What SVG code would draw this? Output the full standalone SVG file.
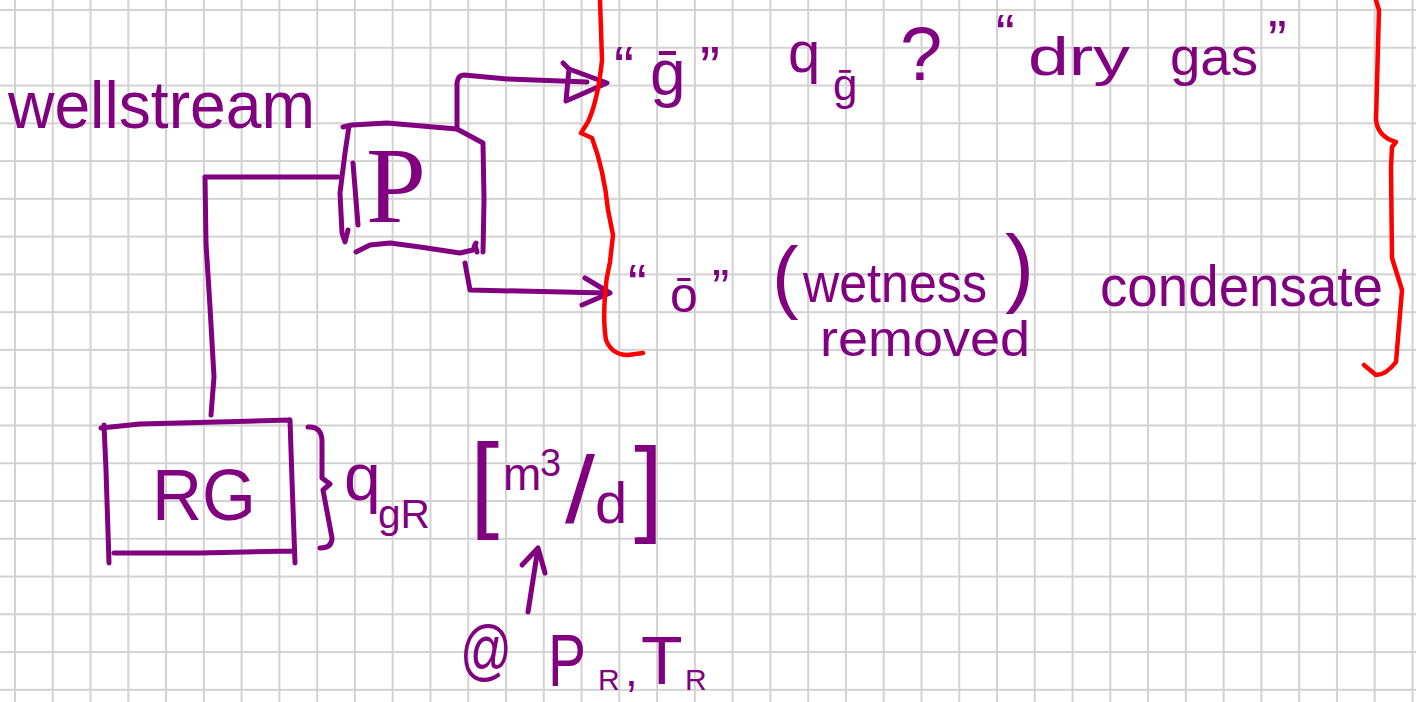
<svg xmlns="http://www.w3.org/2000/svg" width="1416" height="702" viewBox="0 0 1416 702">
<style>
.pen{fill:none;stroke:#800080;stroke-width:5;stroke-linecap:round;stroke-linejoin:round}
.red{fill:none;stroke:#ff0000;stroke-width:4.5;stroke-linecap:round;stroke-linejoin:round}
.t{font-family:"Liberation Sans",Arial,sans-serif;fill:#800080}
.s{font-family:"Liberation Serif","Times New Roman",serif;fill:#800080}
</style>
<defs>
<pattern id="grid" x="14" y="9" width="37.77" height="37.77" patternUnits="userSpaceOnUse">
<rect x="0" y="0" width="2" height="37.77" fill="#d2d2d2"/>
<rect x="0" y="0" width="37.77" height="2" fill="#d2d2d2"/>
</pattern>
</defs>
<rect width="1416" height="702" fill="#ffffff"/>
<rect width="1416" height="702" fill="url(#grid)"/>

<g id="connectors">
<path id="c-feed" class="pen" d="M338,177 L205,177 L206,243 L210,307 L214,377 L211,415"/>
<path id="c-gas" class="pen" d="M457,129 L457,83 Q458,75 464,75 L507,79 L587,82"/>
<path id="c-gas-head" class="pen" d="M563,63 L569,69 L607,83 L566,101 L569,69"/>
<path id="c-oil" class="pen" d="M465,263 L470,290 L607,293"/>
<path id="c-oil-head" class="pen" d="M585,278 L610,293 L582,305"/>
<path id="c-cond" class="pen" d="M528,612 L538,548 M522,565 L538,548 L545,573"/>
</g>

<g id="separator">
<path class="pen" d="M343,127 L352,125 L387,123 L457,129 L483,143 L484,200 L483,252 M475,245 L477,252"/>
<path class="pen" d="M349,126 L345,153 L340,193 L342,233 L345,242 L348,230"/>
<path class="pen" d="M353,163 L358,225"/>
<path class="pen" d="M356,252 L370,245 L390,243 L420,247 L460,253 L473,250 L476,243"/>
<text class="s" x="366" y="222" font-size="108">P</text>
</g>

<g id="rg">
<path class="pen" d="M101,428 L140,424 L289,420 M104,425 L106,470 L109,563 M290,420 L292,480 L295,563 M114,553 L200,553 L293,551"/>
<text class="t" x="152" y="520" font-size="72" textLength="104" lengthAdjust="spacingAndGlyphs">RG</text>
</g>

<g id="label-wellstream">
<text class="t" x="8" y="128" font-size="66" textLength="307" lengthAdjust="spacingAndGlyphs">wellstream</text>
</g>

<g id="label-gas">
<text class="t" x="614" y="88" font-size="60">“</text>
<text class="t" x="650" y="95" font-size="64">ḡ</text>
<text class="t" x="700" y="88" font-size="60">”</text>
<text class="t" x="788" y="72" font-size="58">q</text>
<text class="t" x="833" y="100" font-size="44">ḡ</text>
<text class="t" x="900" y="80" font-size="76">?</text>
<text class="t" x="996" y="53" font-size="56">“</text>
<text class="t" x="1028" y="75" font-size="54" textLength="102" lengthAdjust="spacingAndGlyphs">dry</text>
<text class="t" x="1170" y="75" font-size="54" textLength="88" lengthAdjust="spacingAndGlyphs">gas</text>
<text class="t" x="1268" y="59" font-size="56">”</text>
</g>

<g id="label-oil">
<text class="t" x="628" y="303" font-size="56">“</text>
<text class="t" x="670" y="312" font-size="50">ō</text>
<text class="t" x="712" y="306" font-size="52">”</text>
<text class="t" x="772" y="303" font-size="80">(</text>
<text class="t" x="803" y="302" font-size="56" textLength="184" lengthAdjust="spacingAndGlyphs">wetness</text>
<text class="t" x="1005" y="296" font-size="88">)</text>
<text class="t" x="820" y="356" font-size="50" textLength="210" lengthAdjust="spacingAndGlyphs">removed</text>
<text class="t" x="1100" y="306" font-size="58" textLength="283" lengthAdjust="spacingAndGlyphs">condensate</text>
</g>

<g id="braces">
<path class="red" d="M600,0 L602,60 Q598,100 588,122 L581,133 L592,138 Q604,170 608,210 L613,235 L610,262 Q606,278 605,295 Q603,322 606,340 Q612,355 628,355 L643,353"/>
<path class="red" d="M1376,0 L1379,10 L1376,120 Q1378,137 1396,142 L1392,147 L1391,167 L1392,258 L1402,290 L1396,362 Q1386,375 1376,375 L1364,365"/>
</g>

<g id="label-rate">
<path class="pen" d="M308,427 Q322,426 322,442 L322,478 L330,484 L323,490 L332,538 Q332,548 320,548"/>
<text class="t" x="344" y="500" font-size="66">q</text>
<text class="t" x="378" y="528" font-size="40" textLength="52" lengthAdjust="spacingAndGlyphs">gR</text>
<text class="t" x="470" y="518" font-size="105">[</text>
<text class="t" x="503" y="490" font-size="46">m</text>
<text class="t" x="540" y="476" font-size="38">3</text>
<text class="t" x="565" y="523" font-size="95" textLength="30" lengthAdjust="spacingAndGlyphs">/</text>
<text class="t" x="595" y="523" font-size="58">d</text>
<text class="t" x="634" y="522" font-size="105">]</text>
</g>

<g id="label-conditions">
<text class="t" x="460" y="672" font-size="66" textLength="52" lengthAdjust="spacingAndGlyphs">@</text>
<text class="t" x="548" y="686" font-size="74" textLength="38" lengthAdjust="spacingAndGlyphs">P</text>
<text class="t" x="598" y="690" font-size="30">R</text>
<text class="t" x="625" y="686" font-size="46">,</text>
<text class="t" x="641" y="684" font-size="68">T</text>
<text class="t" x="685" y="690" font-size="30">R</text>
</g>
</svg>
